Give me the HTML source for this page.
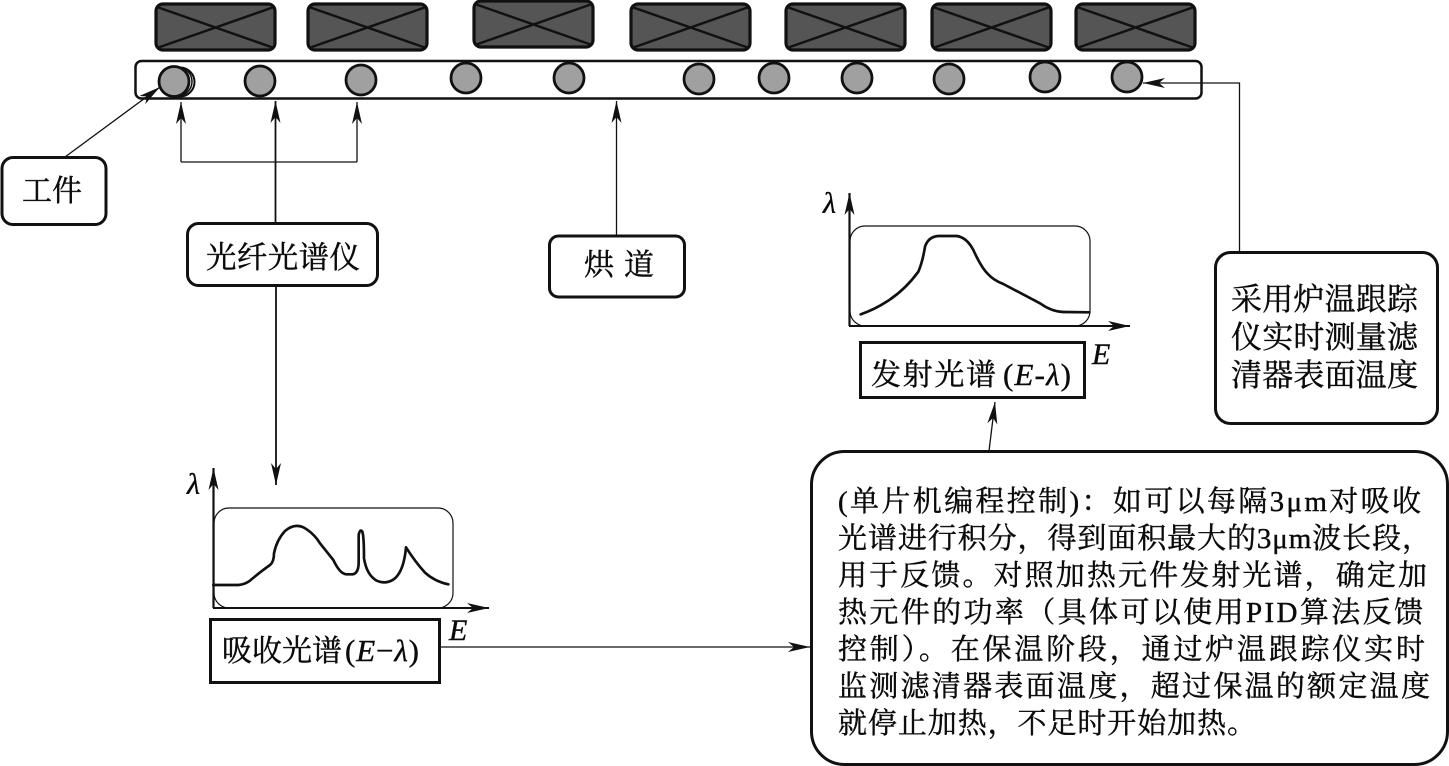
<!DOCTYPE html>
<html lang="zh">
<head>
<meta charset="utf-8">
<title>Diagram</title>
<style>
html,body{margin:0;padding:0;background:#fff;width:1449px;height:766px;overflow:hidden}
svg{display:block}
text{font-family:"Liberation Serif","Noto Serif CJK SC",serif;fill:#0a0a0a;stroke:#0a0a0a;stroke-width:.4}
.i{font-style:italic;font-family:"Liberation Serif",serif}
</style>
</head>
<body>
<svg width="1449" height="766" viewBox="0 0 1449 766" xmlns="http://www.w3.org/2000/svg">
<defs>
<marker id="a" markerUnits="userSpaceOnUse" markerWidth="24" markerHeight="12" viewBox="-23 -6 24 12" refX="0" refY="0" orient="auto">
<path d="M0,0L-22,-5L-16,0L-22,5Z" fill="#111"/>
</marker>
<g id="h">
<rect x="1" y="1" width="119" height="46" rx="7" fill="#555" stroke="#111" stroke-width="3.200"/>
<path d="M2,4L119,45M2,45L119,4" stroke="#111" stroke-width="2.500" fill="none"/>
</g>
</defs>

<!-- heaters -->
<use href="#h" x="155" y="3"/>
<use href="#h" x="307" y="3"/>
<use href="#h" x="473" y="0"/>
<use href="#h" x="630" y="3"/>
<use href="#h" x="785" y="3"/>
<use href="#h" x="931" y="3"/>
<use href="#h" x="1075" y="3"/>

<!-- conveyor -->
<rect x="135.500" y="61" width="1066" height="37.500" rx="6" fill="#fff" stroke="#111" stroke-width="2.500"/>
<g fill="#a0a0a0" stroke="#111" stroke-width="2.800">
<circle cx="180" cy="82" r="14.500" fill="#fff" stroke-width="2"/>
<circle cx="177.500" cy="81.500" r="14.500" fill="#fff" stroke-width="1.500"/>
<circle cx="174" cy="81.500" r="15"/>
<circle cx="260" cy="81" r="15"/>
<circle cx="361" cy="80" r="15"/>
<circle cx="466" cy="78" r="15"/>
<circle cx="569" cy="78" r="15"/>
<circle cx="699" cy="79" r="15"/>
<circle cx="774" cy="78" r="15"/>
<circle cx="857" cy="78" r="15"/>
<circle cx="949" cy="79" r="15"/>
<circle cx="1045" cy="77" r="15"/>
<circle cx="1127" cy="77" r="15"/>
</g>

<!-- connectors -->
<g fill="none" stroke="#111" stroke-width="1.300">
<path d="M65,157L160,87" marker-end="url(#a)"/>
<path d="M181,162V102" marker-end="url(#a)"/>
<path d="M357,162V102" marker-end="url(#a)"/>
<path d="M181,162H357"/>
<path d="M275.500,223V101" marker-end="url(#a)" stroke-width="1.800"/>
<path d="M276,286V485" marker-end="url(#a)" stroke-width="1.800"/>
<path d="M616.500,235V101" marker-end="url(#a)"/>
<path d="M1239.500,252V83H1143" marker-end="url(#a)"/>
<path d="M440,647H810" marker-end="url(#a)"/>
<path d="M989,451L995,402" marker-end="url(#a)"/>
</g>

<!-- labelled boxes -->
<rect x="2" y="157.500" width="104" height="67" rx="11" fill="#fff" stroke="#111" stroke-width="3"/>
<text x="22" y="201" font-size="30">工件</text>

<rect x="187.500" y="223.500" width="190" height="62" rx="11" fill="#fff" stroke="#111" stroke-width="3"/>
<text x="206" y="268" font-size="30.500" textLength="154">光纤光谱仪</text>

<rect x="549.500" y="236" width="135" height="61" rx="9" fill="#fff" stroke="#111" stroke-width="3"/>
<text x="584" y="275" font-size="30" textLength="70">烘 道</text>

<rect x="1215.500" y="252.500" width="222" height="171" rx="15" fill="#fff" stroke="#111" stroke-width="3"/>
<g font-size="31">
<text x="1231" y="310" textLength="187">采用炉温跟踪</text>
<text x="1231" y="348" textLength="187">仪实时测量滤</text>
<text x="1231" y="386" textLength="187">清器表面温度</text>
</g>

<!-- absorption chart -->
<rect x="214" y="508" width="239" height="100" rx="15" fill="#fff" stroke="#111" stroke-width="1.200"/>
<path d="M213.500,608V468" fill="none" stroke="#111" stroke-width="2.200" marker-end="url(#a)"/>
<path d="M213,608H489" fill="none" stroke="#111" stroke-width="2" marker-end="url(#a)"/>
<g transform="translate(170,460) scale(.33333)">
<path fill="none" stroke="#111" stroke-width="8" stroke-linejoin="round" stroke-linecap="round" d="M130,375L205,375Q225,373 240,362Q265,340 300,315Q312,305 312,280Q320,240 345,213Q378,185 410,208Q435,225 450,250L490,300Q510,343 530,343L548,343Q565,340 566,310L566,225Q570,205 577,215Q582,230 582,295Q590,345 620,362Q650,375 675,355Q702,330 708,262Q735,305 765,338Q795,365 835,373"/>
</g>
<text x="187" y="494" class="i" font-size="30">λ</text>
<text x="449" y="640" class="i" font-size="30">E</text>
<rect x="210.500" y="619.500" width="229" height="63" fill="#fff" stroke="#111" stroke-width="3"/>
<text x="222" y="661" font-size="30">吸收光谱</text>
<text x="345" y="661" font-size="31" textLength="74">(<tspan class="i">E</tspan>−<tspan class="i">λ</tspan>)</text>

<!-- emission chart -->
<rect x="850" y="226" width="240" height="100" rx="15" fill="#fff" stroke="#111" stroke-width="1.200"/>
<path d="M849.500,326V193" fill="none" stroke="#111" stroke-width="2.200" marker-end="url(#a)"/>
<path d="M849,326H1130" fill="none" stroke="#111" stroke-width="2" marker-end="url(#a)"/>
<g transform="translate(810,180) scale(.33333)">
<path fill="none" stroke="#111" stroke-width="8" stroke-linejoin="round" stroke-linecap="round" d="M152,403Q195,388 230,365Q285,330 325,275Q338,245 345,200Q355,170 385,168L440,168Q470,172 490,210Q515,265 535,283Q550,300 580,312L690,370Q725,395 760,396L838,397"/>
</g>
<text x="823" y="213" class="i" font-size="30">λ</text>
<text x="1092" y="364" class="i" font-size="30">E</text>
<rect x="860.500" y="342.500" width="224" height="55" fill="#fff" stroke="#111" stroke-width="3"/>
<text x="871" y="385" font-size="30" textLength="125">发射光谱</text>
<text x="1003" y="385" font-size="31" textLength="68">(<tspan class="i">E</tspan>-<tspan class="i">λ</tspan>)</text>

<!-- control box -->
<rect x="811.500" y="451.500" width="636" height="313" rx="33" fill="#fff" stroke="#111" stroke-width="3"/>
<g font-size="29">
<text x="838" y="511" textLength="583">(单片机编程控制)：如可以每隔3μm对吸收</text>
<text x="838" y="548" textLength="593">光谱进行积分，得到面积最大的3μm波长段，</text>
<text x="838" y="585" textLength="589">用于反馈。对照加热元件发射光谱，确定加</text>
<text x="838" y="622" textLength="585">热元件的功率（具体可以使用PID算法反馈</text>
<text x="838" y="659" textLength="587">控制）。在保温阶段，通过炉温跟踪仪实时</text>
<text x="838" y="696" textLength="592">监测滤清器表面温度，超过保温的额定温度</text>
<text x="838" y="733" textLength="418">就停止加热，不足时开始加热。</text>
</g>
</svg>
</body>
</html>
